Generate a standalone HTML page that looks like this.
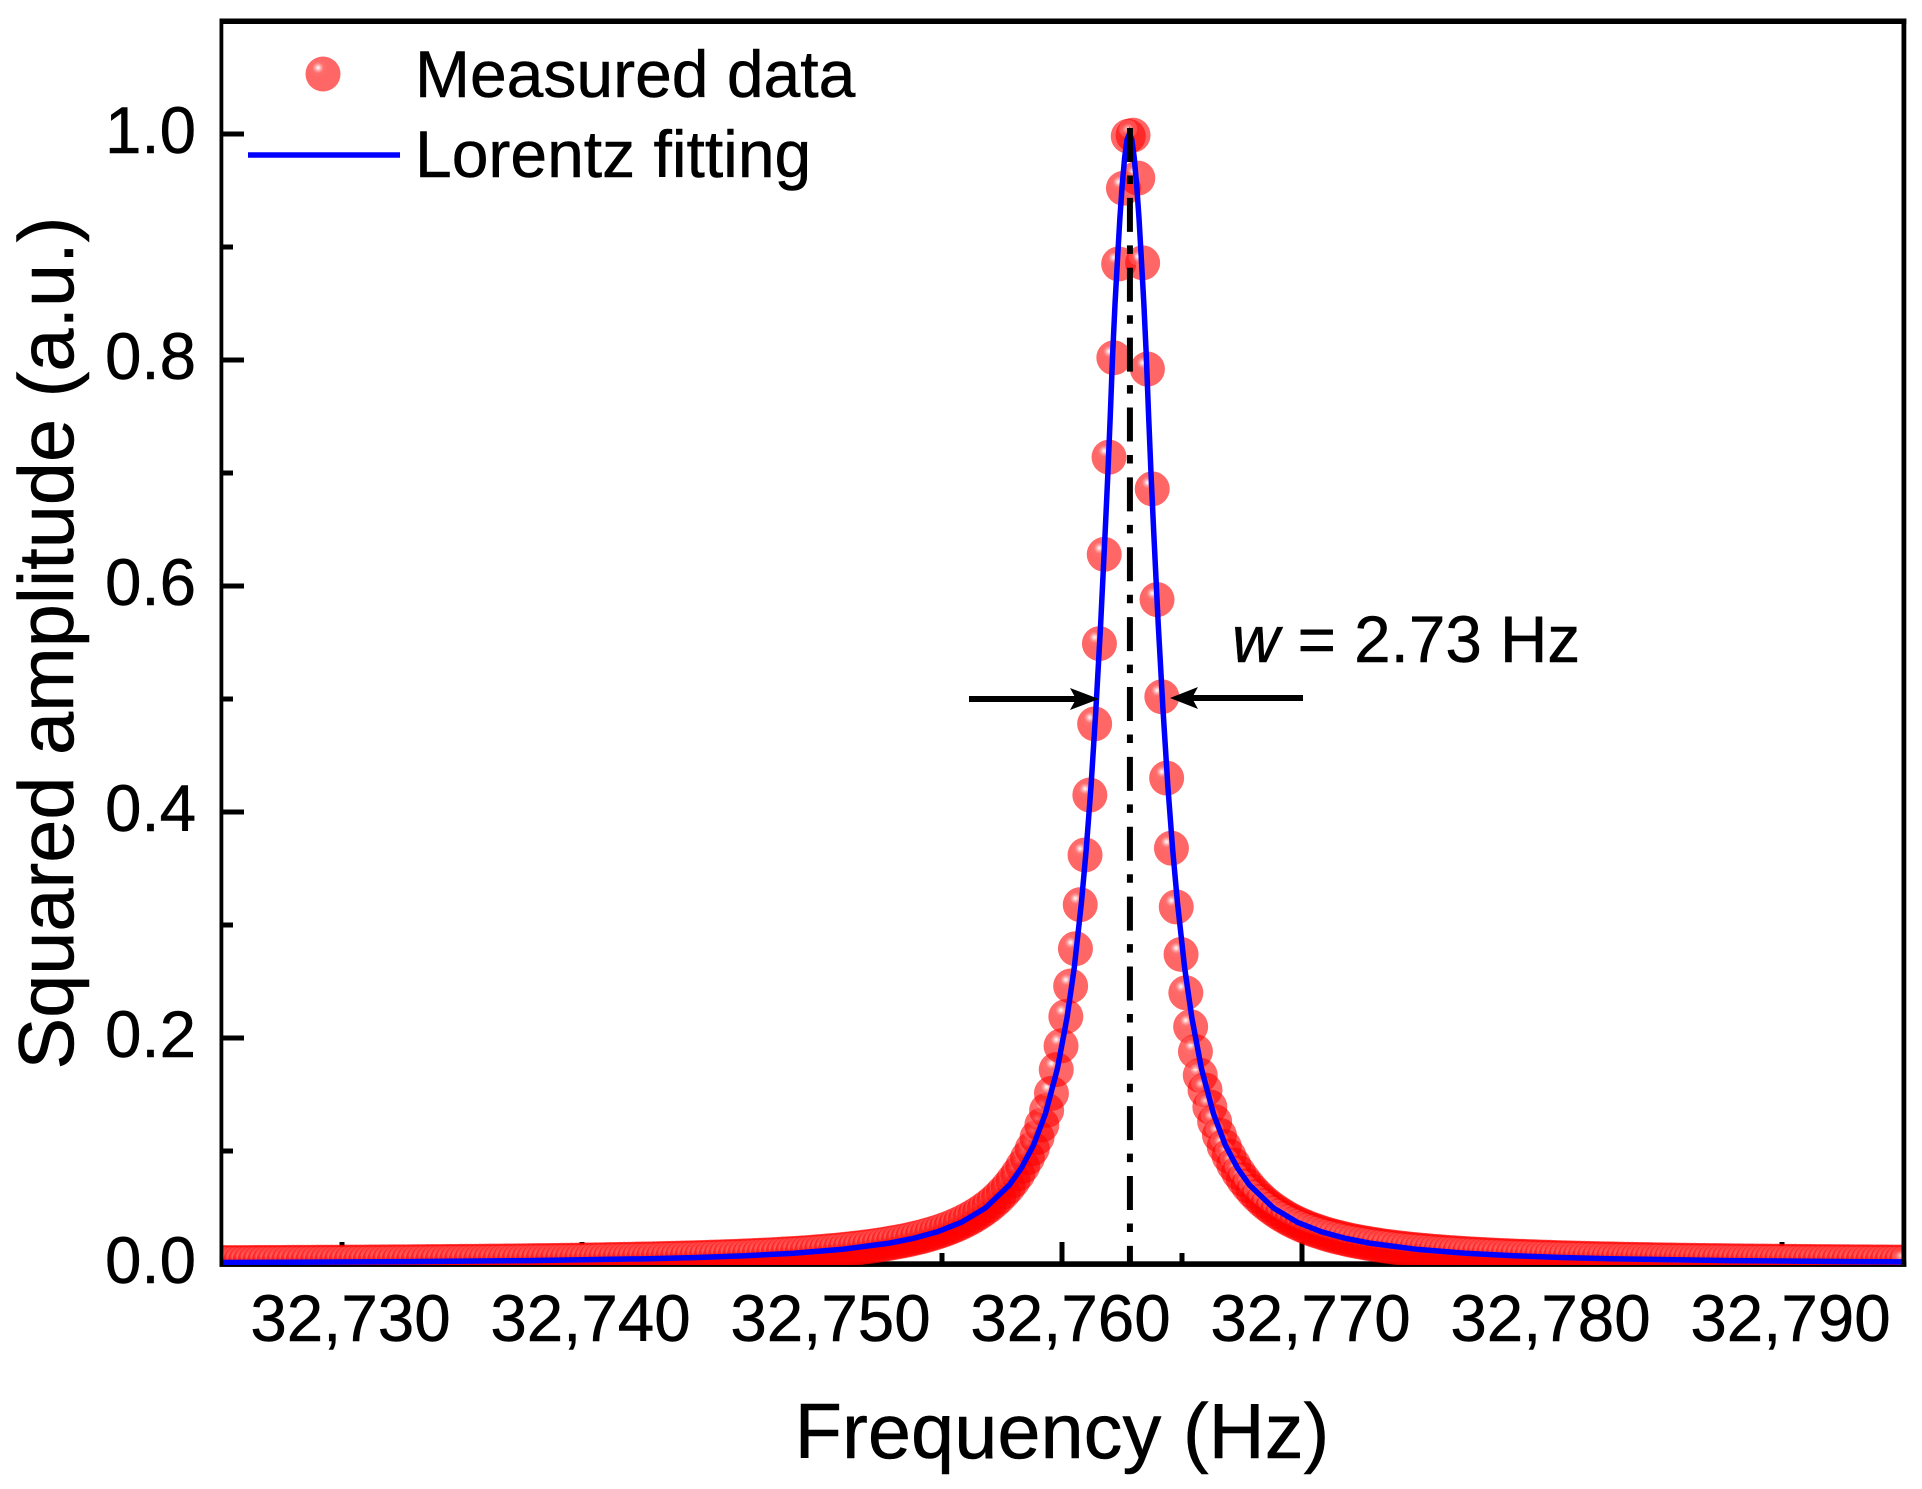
<!DOCTYPE html>
<html lang="en">
<head>
<meta charset="utf-8">
<title>Squared amplitude vs frequency</title>
<style>
html,body{margin:0;padding:0;background:#fff;}
svg{display:block;}
text{font-family:"Liberation Sans",Arial,sans-serif;fill:#000;stroke:#000;stroke-width:0.5px;}
</style>
</head>
<body>
<svg id="chart" xmlns="http://www.w3.org/2000/svg" width="1922" height="1489" viewBox="0 0 1922 1489">
  <defs>
    <radialGradient id="ball" cx="0.36" cy="0.32" r="0.27">
      <stop offset="0" stop-color="#ffffff" stop-opacity="0.7"/>
      <stop offset="0.35" stop-color="#ff8282" stop-opacity="0.8"/>
      <stop offset="0.6" stop-color="#ff4646" stop-opacity="0.8"/>
      <stop offset="0.92" stop-color="#ff4646" stop-opacity="0.8"/>
      <stop offset="1" stop-color="#ff0000" stop-opacity="0.6"/>
    </radialGradient>
    <clipPath id="plot-clip"><rect x="221" y="21" width="1683" height="1244"/></clipPath>
  </defs>
  <rect x="0" y="0" width="1922" height="1489" fill="#fff"/>
  <rect x="219.5" y="1261.3" width="1686.8" height="5.5" fill="#000"/>
  <g id="ticks"></g>
  <g id="marks" clip-path="url(#plot-clip)">
    <g id="measured"></g>
    <path id="fit" fill="none" stroke="#0000ff" stroke-width="5.5" stroke-linejoin="miter" stroke-miterlimit="20"/>
  </g>
  <line id="peak-line" stroke="#000" stroke-width="6" stroke-dasharray="34 13.5 8.5 13.87"/>
  <g fill="#000">
    <rect x="219.5" y="18.5" width="3.8" height="1248"/>
    <rect x="1901.5" y="18.5" width="4.8" height="1248"/>
    <rect x="219.5" y="18.5" width="1686.8" height="5.5"/>
    <rect x="219.5" y="1265" width="1686.8" height="1.8"/>
  </g>
  <g id="x-labels"></g>
  <g id="y-labels"></g>
  <text x="1062" y="1458" font-size="77.6" text-anchor="middle">Frequency (Hz)</text>
  <text transform="translate(73 643) rotate(-90)" font-size="77.5" text-anchor="middle">Squared amplitude (a.u.)</text>
  <g>
    <g>
      <circle cx="323" cy="74" r="17.5" fill="url(#ball)"/>
      <text x="415" y="97" font-size="66">Measured data</text>
    </g>
    <g>
      <line x1="248" y1="155" x2="400" y2="155" stroke="#0000ff" stroke-width="5.5"/>
      <text x="415" y="177" font-size="66">Lorentz fitting</text>
    </g>
  </g>
  <g>
    <line x1="969" y1="699" x2="1085" y2="699" stroke="#000" stroke-width="6"/>
    <path d="M1099 699 L1070 688 L1076 699 L1070 710 Z" fill="#000"/>
    <line x1="1303" y1="698" x2="1185" y2="698" stroke="#000" stroke-width="6"/>
    <path d="M1170 698 L1198 687 L1192 698 L1198 709 Z" fill="#000"/>
    <text x="1232" y="662" font-size="65.6"><tspan font-style="italic">w</tspan> = 2.73 Hz</text>
  </g>
</svg>
<script>
const xTicksMajor = [32730, 32740, 32750, 32760, 32770, 32780, 32790];
const xTicksMinor = [32735, 32745, 32755, 32765, 32775, 32785];
const xTickLabels = ["32,730", "32,740", "32,750", "32,760", "32,770", "32,780", "32,790"];
const yTicksMajor = [0, 0.2, 0.4, 0.6, 0.8, 1.0];
const yTicksMinor = [0.1, 0.3, 0.5, 0.7, 0.9];
const yTickLabels = ["0.0", "0.2", "0.4", "0.6", "0.8", "1.0"];
const peakFrequency = [32762.83];

const measuredFreq = [
32724.96,32725.16,32725.36,32725.56,32725.76,32725.96,32726.16,32726.36,32726.56,32726.76,
32726.96,32727.16,32727.36,32727.56,32727.76,32727.96,32728.16,32728.36,32728.56,32728.76,
32728.96,32729.16,32729.36,32729.56,32729.76,32729.96,32730.16,32730.36,32730.56,32730.76,
32730.96,32731.16,32731.36,32731.56,32731.76,32731.96,32732.16,32732.36,32732.56,32732.76,
32732.96,32733.16,32733.36,32733.56,32733.76,32733.96,32734.16,32734.36,32734.56,32734.76,
32734.96,32735.16,32735.36,32735.56,32735.76,32735.96,32736.16,32736.36,32736.56,32736.76,
32736.96,32737.16,32737.36,32737.56,32737.76,32737.96,32738.16,32738.36,32738.56,32738.76,
32738.96,32739.16,32739.36,32739.56,32739.76,32739.96,32740.16,32740.36,32740.56,32740.76,
32740.96,32741.16,32741.36,32741.56,32741.76,32741.96,32742.16,32742.36,32742.56,32742.76,
32742.96,32743.16,32743.36,32743.56,32743.76,32743.96,32744.16,32744.36,32744.56,32744.76,
32744.96,32745.16,32745.36,32745.56,32745.76,32745.96,32746.16,32746.36,32746.56,32746.76,
32746.96,32747.16,32747.36,32747.56,32747.76,32747.96,32748.16,32748.36,32748.56,32748.76,
32748.96,32749.16,32749.36,32749.56,32749.76,32749.96,32750.16,32750.36,32750.56,32750.76,
32750.96,32751.16,32751.36,32751.56,32751.76,32751.96,32752.16,32752.36,32752.56,32752.76,
32752.96,32753.16,32753.36,32753.56,32753.76,32753.96,32754.16,32754.36,32754.56,32754.76,
32754.96,32755.16,32755.36,32755.56,32755.76,32755.96,32756.16,32756.36,32756.56,32756.76,
32756.96,32757.16,32757.36,32757.56,32757.76,32757.96,32758.16,32758.36,32758.56,32758.76,
32758.96,32759.16,32759.36,32759.56,32759.76,32759.96,32760.16,32760.36,32760.56,32760.76,
32760.96,32761.16,32761.36,32761.56,32761.76,32761.96,32762.16,32762.36,32762.56,32762.76,
32762.96,32763.16,32763.36,32763.56,32763.76,32763.96,32764.16,32764.36,32764.56,32764.76,
32764.96,32765.16,32765.36,32765.56,32765.76,32765.96,32766.16,32766.36,32766.56,32766.76,
32766.96,32767.16,32767.36,32767.56,32767.76,32767.96,32768.16,32768.36,32768.56,32768.76,
32768.96,32769.16,32769.36,32769.56,32769.76,32769.96,32770.16,32770.36,32770.56,32770.76,
32770.96,32771.16,32771.36,32771.56,32771.76,32771.96,32772.16,32772.36,32772.56,32772.76,
32772.96,32773.16,32773.36,32773.56,32773.76,32773.96,32774.16,32774.36,32774.56,32774.76,
32774.96,32775.16,32775.36,32775.56,32775.76,32775.96,32776.16,32776.36,32776.56,32776.76,
32776.96,32777.16,32777.36,32777.56,32777.76,32777.96,32778.16,32778.36,32778.56,32778.76,
32778.96,32779.16,32779.36,32779.56,32779.76,32779.96,32780.16,32780.36,32780.56,32780.76,
32780.96,32781.16,32781.36,32781.56,32781.76,32781.96,32782.16,32782.36,32782.56,32782.76,
32782.96,32783.16,32783.36,32783.56,32783.76,32783.96,32784.16,32784.36,32784.56,32784.76,
32784.96,32785.16,32785.36,32785.56,32785.76,32785.96,32786.16,32786.36,32786.56,32786.76,
32786.96,32787.16,32787.36,32787.56,32787.76,32787.96,32788.16,32788.36,32788.56,32788.76,
32788.96,32789.16,32789.36,32789.56,32789.76,32789.96,32790.16,32790.36,32790.56,32790.76,
32790.96,32791.16,32791.36,32791.56,32791.76,32791.96,32792.16,32792.36,32792.56,32792.76,
32792.96,32793.16,32793.36,32793.56,32793.76,32793.96,32794.16,32794.36,32794.56,32794.76,
32794.96,32795.16
];

const measuredAmp = [
.00129,.00130,.00132,.00133,.00134,.00136,.00137,.00139,.00140,.00142,
.00144,.00145,.00147,.00149,.00150,.00152,.00154,.00156,.00157,.00159,
.00161,.00163,.00165,.00167,.00169,.00171,.00173,.00175,.00178,.00180,
.00182,.00184,.00187,.00189,.00191,.00194,.00196,.00199,.00202,.00204,
.00207,.00210,.00213,.00216,.00219,.00222,.00225,.00228,.00231,.00235,
.00238,.00241,.00245,.00249,.00252,.00256,.00260,.00264,.00268,.00272,
.00276,.00281,.00285,.00289,.00294,.00299,.00304,.00309,.00314,.00319,
.00324,.00330,.00335,.00341,.00347,.00353,.00360,.00366,.00372,.00379,
.00386,.00393,.00401,.00408,.00416,.00424,.00432,.00441,.00449,.00458,
.00467,.00477,.00487,.00497,.00507,.00518,.00529,.00541,.00553,.00565,
.00578,.00591,.00604,.00618,.00633,.00648,.00664,.00680,.00696,.00714,
.00732,.00751,.00770,.00790,.00811,.00833,.00856,.00880,.00904,.00930,
.00957,.00985,.0101,.0104,.0108,.0111,.0115,.0118,.0122,.0126,
.0130,.0135,.0140,.0144,.0150,.0155,.0161,.0167,.0174,.0181,
.0188,.0196,.0204,.0212,.0222,.0232,.0242,.0254,.0266,.0279,
.0293,.0308,.0324,.0342,.0361,.0382,.0404,.0429,.0455,.0485,
.0516,.0552,.0591,.0635,.0682,.0737,.0796,.0864,.0939,.102,
.112,.123,.136,.151,.172,.193,.219,.246,.279,.318,
.362,.415,.478,.549,.628,.714,.802,.885,.952,.998,
.999,.961,.886,.792,.686,.588,.502,.430,.368,.316,
.274,.240,.210,.188,.167,.154,.139,.126,.114,.104,
.0955,.0877,.0808,.0747,.0692,.0643,.0599,.0559,.0523,.0491,
.0461,.0434,.0409,.0386,.0365,.0346,.0328,.0311,.0296,.0282,
.0268,.0256,.0244,.0234,.0224,.0214,.0205,.0197,.0189,.0182,
.0175,.0168,.0162,.0156,.0151,.0145,.0140,.0136,.0131,.0127,
.0123,.0119,.0115,.0112,.0108,.0105,.0102,.00991,.00962,.00935,
.00909,.00884,.00860,.00838,.00816,.00795,.00774,.00755,.00736,.00718,
.00700,.00683,.00667,.00651,.00636,.00621,.00607,.00593,.00580,.00567,
.00555,.00543,.00532,.00520,.00510,.00499,.00489,.00479,.00469,.00460,
.00451,.00442,.00434,.00426,.00418,.00410,.00402,.00395,.00387,.00380,
.00374,.00367,.00360,.00354,.00348,.00342,.00336,.00331,.00325,.00320,
.00315,.00310,.00304,.00300,.00295,.00290,.00286,.00281,.00277,.00273,
.00269,.00264,.00260,.00257,.00253,.00249,.00245,.00242,.00239,.00235,
.00232,.00229,.00225,.00222,.00219,.00216,.00213,.00210,.00208,.00205,
.00202,.00199,.00197,.00194,.00192,.00190,.00187,.00185,.00182,.00180,
.00178,.00176
];

const fitFreq = [
32724.81,32727.81,32732.81,32737.81,32742.81,32744.81,32746.81,32748.81,32750.81,32752.81,
32753.81,32754.81,32755.81,32756.81,32757.81,32758.31,32758.81,32759.31,32759.81,32760.21,
32760.51,32760.81,32761.01,32761.21,32761.41,32761.61,32761.81,32761.91,32762.01,32762.11,
32762.21,32762.31,32762.41,32762.51,32762.61,32762.71,32762.81,
32762.91,32763.01,32763.11,32763.21,32763.31,32763.41,32763.51,32763.61,32763.71,32763.81,
32764.01,32764.21,32764.41,32764.61,32764.81,32765.11,32765.41,32765.81,32766.31,32766.81,
32767.31,32767.81,32768.81,32769.81,32770.81,32771.81,32772.81,32774.81,32776.81,32778.81,
32780.81,32782.81,32787.81,32792.81,32797.81
];

const fitAmp = [
.00130,.00153,.00208,.00300,.00468,.00577,.00729,.00950,.0129,.0185,
.0227,.0285,.0369,.0496,.0699,.0850,.105,.133,.173,.218,
.262,.320,.367,.423,.490,.566,.653,.699,.750,.805,
.850,.888,.925,.955,.979,.995,1.0,
.995,.979,.955,.925,.888,.850,.805,.750,.699,.653,
.566,.490,.423,.367,.320,.262,.218,.173,.133,.105,
.0850,.0699,.0496,.0369,.0285,.0227,.0185,.0129,.00950,.00729,
.00577,.00468,.00300,.00208,.00153
];

const SVGNS = "http://www.w3.org/2000/svg";
const xDomain = [32725, 32795];
const xRange = [222, 1902];
const yDomain = [0, 1.1];
const yRange = [1264, 21];
function xScale(v) { return xRange[0] + (v - xDomain[0]) * (xRange[1] - xRange[0]) / (xDomain[1] - xDomain[0]); }
function yScale(v) { return yRange[0] + (v - yDomain[0]) * (yRange[1] - yRange[0]) / (yDomain[1] - yDomain[0]); }
function make(tag, parent) { const el = document.createElementNS(SVGNS, tag); parent.appendChild(el); return el; }

const ticksG = document.getElementById("ticks");
xTicksMajor.forEach(function (v) {
  const t = make("line", ticksG);
  
  
  t.setAttribute("x1", xScale(v)); t.setAttribute("x2", xScale(v));
  t.setAttribute("y1", 1242); t.setAttribute("y2", 1264);
  t.setAttribute("stroke", "#000"); t.setAttribute("stroke-width", 5);
});
xTicksMinor.forEach(function (v) {
  const t = make("line", ticksG);
  
  
  t.setAttribute("x1", xScale(v)); t.setAttribute("x2", xScale(v));
  t.setAttribute("y1", 1253); t.setAttribute("y2", 1264);
  t.setAttribute("stroke", "#000"); t.setAttribute("stroke-width", 5);
});
yTicksMajor.forEach(function (v) {
  const t = make("line", ticksG);
  
  
  t.setAttribute("x1", 221); t.setAttribute("x2", 244);
  t.setAttribute("y1", yScale(v)); t.setAttribute("y2", yScale(v));
  t.setAttribute("stroke", "#000"); t.setAttribute("stroke-width", 5);
});
yTicksMinor.forEach(function (v) {
  const t = make("line", ticksG);
  
  
  t.setAttribute("x1", 221); t.setAttribute("x2", 233);
  t.setAttribute("y1", yScale(v)); t.setAttribute("y2", yScale(v));
  t.setAttribute("stroke", "#000"); t.setAttribute("stroke-width", 5);
});

const xLabelsG = document.getElementById("x-labels");
xTicksMajor.forEach(function (v, i) {
  const t = make("text", xLabelsG);
  
  
  t.setAttribute("x", xScale(v) + 8.5);
  t.setAttribute("y", 1341);
  t.setAttribute("font-size", 65.5);
  t.setAttribute("text-anchor", "middle");
  t.textContent = xTickLabels[i];
});
const yLabelsG = document.getElementById("y-labels");
yTicksMajor.forEach(function (v, i) {
  const t = make("text", yLabelsG);
  
  
  t.setAttribute("x", 196);
  t.setAttribute("y", yScale(v) + 19);
  t.setAttribute("font-size", 65.5);
  t.setAttribute("text-anchor", "end");
  t.textContent = yTickLabels[i];
});

const measuredG = document.getElementById("measured");
measuredFreq.forEach(function (f, i) {
  const c = make("circle", measuredG);
  
  
  c.setAttribute("cx", xScale(f).toFixed(2));
  c.setAttribute("cy", yScale(measuredAmp[i]).toFixed(2));
  c.setAttribute("r", 17.5);
  c.setAttribute("fill", "url(#ball)");
});

let fitPath = "";
fitFreq.forEach(function (f, i) {
  fitPath += (i ? "L" : "M") + xScale(f).toFixed(2) + " " + yScale(fitAmp[i]).toFixed(2);
});
document.getElementById("fit").setAttribute("d", fitPath);

const peak = document.getElementById("peak-line");
peak.setAttribute("x1", xScale(peakFrequency[0]));
peak.setAttribute("x2", xScale(peakFrequency[0]));
peak.setAttribute("y1", 128);
peak.setAttribute("y2", 1264);
</script>
</body>
</html>
